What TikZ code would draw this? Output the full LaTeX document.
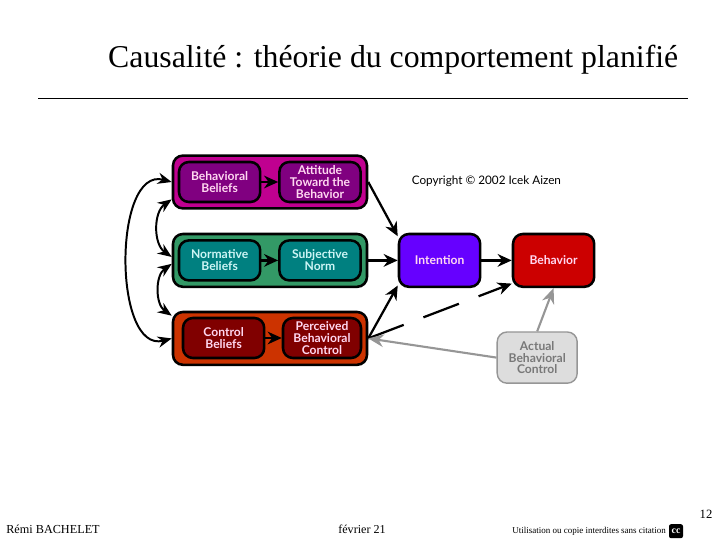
\documentclass[tikz,border=0pt]{standalone}
\usepackage{fontspec}
\setmainfont{Liberation Serif}
\newfontfamily\boxfont{Lato}
\usetikzlibrary{arrows.meta}
\definecolor{deepmagenta}{RGB}{192, 0, 144}
\definecolor{darkpurple}{RGB}{128, 0, 128}
\definecolor{seagreen}{RGB}{51, 153, 102}
\definecolor{darkteal}{RGB}{0, 128, 128}
\definecolor{burntorange}{RGB}{204, 51, 0}
\definecolor{darkmaroon}{RGB}{128, 0, 0}
\definecolor{violetblue}{RGB}{102, 0, 255}
\definecolor{brightred}{RGB}{204, 0, 0}
\definecolor{palepink}{RGB}{255, 215, 240}
\definecolor{palecyan}{RGB}{205, 245, 245}
\definecolor{lightgrey}{RGB}{221, 221, 221}
\definecolor{midgrey}{RGB}{150, 150, 150}
\tikzset{
  outerbox/.style={draw=black, line width=1.8pt, rounded corners=7pt, minimum width=4.85cm, minimum height=1.32cm},
  innerbox/.style={draw=black, line width=1.8pt, rounded corners=7pt, minimum width=2.03cm, minimum height=1cm, inner sep=0pt, text=palepink, align=center, font=\boxfont\bfseries\fontsize{8.6}{8.4}\selectfont},
  bigbox/.style={innerbox, minimum height=1.32cm},
  arrowline/.style={-{Stealth[length=10pt, width=9pt]}, line width=1.6pt},
  linkline/.style={{Stealth[length=10pt, width=8pt]}-{Stealth[length=10pt, width=8pt]}, line width=1.4pt},
  greyline/.style={-{Stealth[length=11pt, width=9pt]}, line width=1.5pt, midgrey},
}
\begin{document}
\begin{tikzpicture}
  \useasboundingbox (0,0) rectangle (18,13.5);

  % title and rule
  \node[font=\fontsize{22.6}{26}\selectfont] (title) at (9.83, 12.0) {Causalité : théorie du comportement planifié};
  \draw[line width=0.5pt] (0.95,11.05) -- (17.2,11.05);

  % left column
  \node[outerbox, fill=deepmagenta] (attitudepart) at (6.75, 8.95) {};
  \node[outerbox, fill=seagreen] (normpart) at (6.75, 6.99) {};
  \node[outerbox, fill=burntorange] (controlpart) at (6.75, 5.04) {};

  \node[innerbox, fill=darkpurple] (bbeliefs) at (5.49, 8.95) {Behavioral\\Beliefs};
  \node[innerbox, fill=darkpurple] (attitude) at (8.0, 8.95) {Attitude\\Toward the\\Behavior};
  \node[innerbox, fill=darkteal, text=palecyan] (nbeliefs) at (5.49, 6.99) {Normative\\Beliefs};
  \node[innerbox, fill=darkteal, text=palecyan] (subjnorm) at (8.0, 6.99) {Subjective\\Norm};
  \node[innerbox, fill=darkmaroon] (cbeliefs) at (5.59, 5.05) {Control\\Beliefs};
  \node[innerbox, fill=darkmaroon, minimum width=1.95cm] (perceived) at (8.05, 5.05) {Perceived\\Behavioral\\Control};

  % right column
  \node[bigbox, fill=violetblue] (intention) at (10.99, 6.99) {Intention};
  \node[bigbox, fill=brightred] (behavior) at (13.84, 6.99) {Behavior};
  \node[bigbox, fill=lightgrey, draw=midgrey, line width=1pt, text=midgrey!80!black, minimum width=2cm, minimum height=1.28cm] (actual) at (13.43, 4.56) {Actual\\Behavioral\\Control};

  \node[font=\boxfont\fontsize{8.35}{10}\selectfont] (copyright) at (12.16, 8.98) {Copyright © 2002 Icek Aizen};

  % arrows inside the parts
  \draw[arrowline] (bbeliefs) -- (attitude);
  \draw[arrowline] (nbeliefs) -- (subjnorm);
  \draw[arrowline] (cbeliefs) -- (perceived);

  % arrows towards intention and behavior
  \draw[arrowline] (attitudepart.east) -- (intention.150);
  \draw[arrowline] (normpart.east) -- (intention.west);
  \draw[arrowline] (controlpart.east) -- (intention.211);
  \draw[arrowline] (intention) -- (behavior);
  \draw[arrowline, dash pattern=on 27pt off 15pt] (controlpart.east) -- (behavior.209);

  % actual control
  \draw[greyline] (actual.north) -- (behavior.south);
  \draw[greyline] (actual.west) -- (controlpart.east);

  % links between the beliefs
  \draw[linkline] (attitudepart.west) to[out=165, in=195] (controlpart.west);
  \draw[linkline] (attitudepart.190) to[out=215, in=145] (normpart.178);
  \draw[linkline] (normpart.182) to[out=215, in=145] (controlpart.167);

  % footer
  \node[anchor=west, font=\fontsize{8.7}{11}\selectfont, inner sep=0pt] (author) at (0.15, 0.27) {Rémi BACHELET};
  \node[font=\fontsize{8.6}{11}\selectfont, inner sep=0pt] (date) at (9.05, 0.27) {février 21};
  \node[font=\fontsize{9}{11}\selectfont, inner sep=0pt] (page) at (17.65, 0.63) {12};
  \node[anchor=west, font=\fontsize{6.4}{7}\selectfont, inner sep=0pt] (notice) at (12.8, 0.22) {Utilisation ou copie interdites sans citation};
  \node[fill=black, text=white, rounded corners=1.5pt, font=\bfseries\fontsize{7}{7}\selectfont, inner sep=1pt, minimum width=0.35cm, minimum height=0.35cm] (cclogo) at (16.9, 0.22) {cc};
\end{tikzpicture}
\end{document}
